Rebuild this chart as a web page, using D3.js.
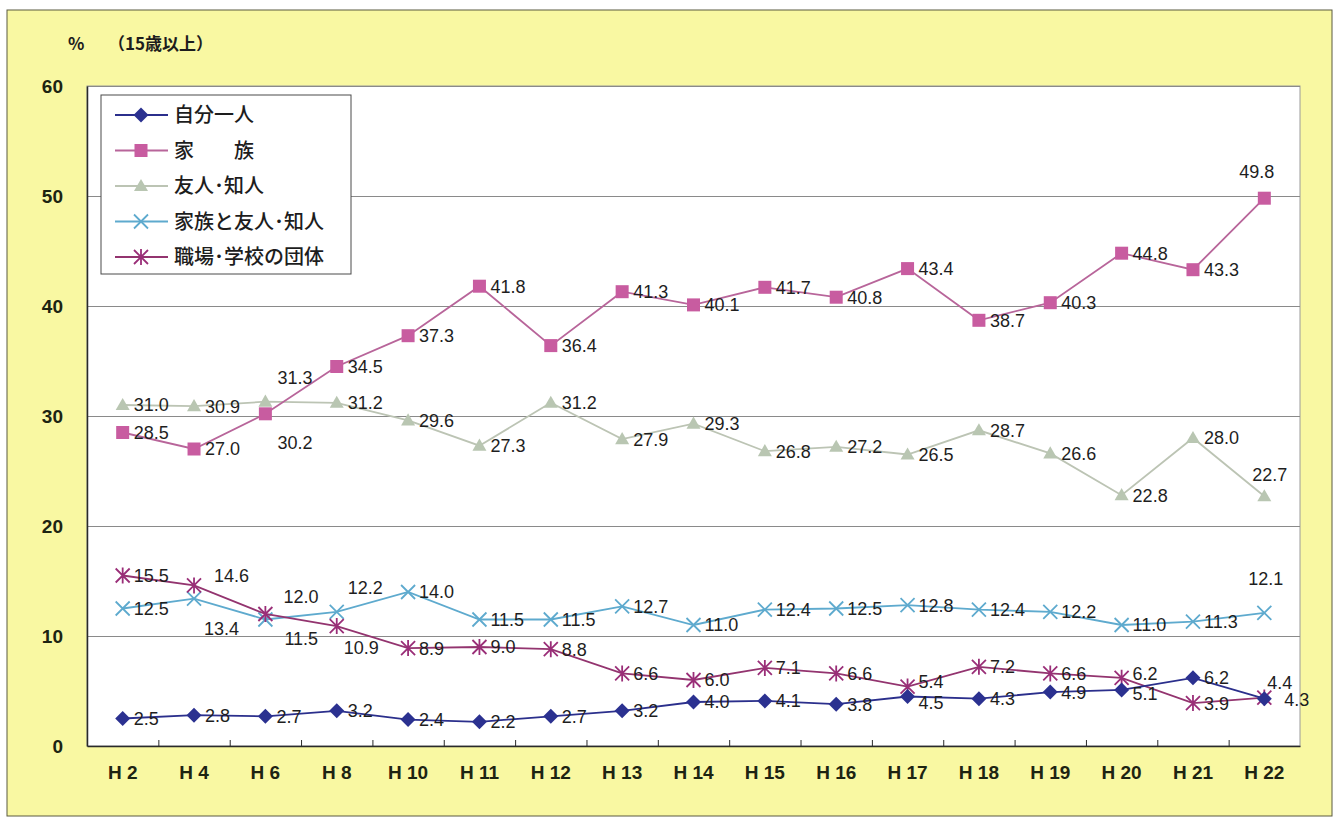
<!DOCTYPE html>
<html lang="ja">
<head>
<meta charset="utf-8">
<script src="https://cdn.jsdelivr.net/npm/d3@7/dist/d3.min.js"></script>
<style>
  html, body { margin: 0; padding: 0; background: #ffffff; }
  svg { display: block; }
  .lbl { font-family: "Liberation Sans", Arial, sans-serif; font-size: 18px; fill: #1e1e1e; }
  .axis text { font-family: "Liberation Sans", Arial, sans-serif; font-weight: bold; fill: #1d2412; }
  .jp { font-family: "Noto Sans CJK JP", "Noto Sans", sans-serif; fill: #1d1d1d; }
</style>
</head>
<body>
<svg id="chart" width="1340" height="820"></svg>
<script>
// Survey years (Heisei era)
const categories = ["H 2","H 4","H 6","H 8","H 10","H 11","H 12","H 13","H 14","H 15","H 16","H 17","H 18","H 19","H 20","H 21","H 22"];

// Percentages (aged 15 and over)
const alone          = [2.5, 2.8, 2.7, 3.2, 2.4, 2.2, 2.7, 3.2, 4.0, 4.1, 3.8, 4.5, 4.3, 4.9, 5.1, 6.2, 4.3];
const family         = [28.5, 27.0, 30.2, 34.5, 37.3, 41.8, 36.4, 41.3, 40.1, 41.7, 40.8, 43.4, 38.7, 40.3, 44.8, 43.3, 49.8];
const friends        = [31.0, 30.9, 31.3, 31.2, 29.6, 27.3, 31.2, 27.9, 29.3, 26.8, 27.2, 26.5, 28.7, 26.6, 22.8, 28.0, 22.7];
const familyFriends  = [12.5, 13.4, 11.5, 12.2, 14.0, 11.5, 11.5, 12.7, 11.0, 12.4, 12.5, 12.8, 12.4, 12.2, 11.0, 11.3, 12.1];
const workSchool     = [15.5, 14.6, 12.0, 10.9, 8.9, 9.0, 8.8, 6.6, 6.0, 7.1, 6.6, 5.4, 7.2, 6.6, 6.2, 3.9, 4.4];

const seriesNames = ["自分一人", "家　　族", "友人･知人", "家族と友人･知人", "職場･学校の団体"];
const yTicks = [0, 10, 20, 30, 40, 50, 60];

const series = [
  { name: seriesNames[0], values: alone,         line: "#2b2f8c", fill: "#2b3190", symbol: "diamond" },
  { name: seriesNames[1], values: family,        line: "#b8659a", fill: "#c85ca0", symbol: "square" },
  { name: seriesNames[2], values: friends,       line: "#bcc4b4", fill: "#b9c6b2", symbol: "triangle" },
  { name: seriesNames[3], values: familyFriends, line: "#5eaace", fill: "#5eaace", symbol: "x" },
  { name: seriesNames[4], values: workSchool,    line: "#93346f", fill: "#9a2e78", symbol: "asterisk" }
];

// Label nudges [dx, dy] relative to the marker, for labels not placed plainly to the right
const labelNudge = {
  "1-2": [12, 29], "1-16": [-25, -27],
  "2-2": [12, -24], "2-16": [-12, -22],
  "3-1": [10, 30], "3-2": [19, 19], "3-3": [11, -24], "3-16": [-16, -34],
  "4-1": [20, -10], "4-2": [18, -17], "4-3": [7, 21], "4-16": [3, -15],
  "4-11": [11, -5], "0-11": [11, 6], "4-14": [11, -4], "0-14": [11, 4],
  "0-16": [20, 1]
};

const svg = d3.select("#chart");
const W = 1340, H = 820;
const plot = { left: 87, right: 1300, top: 86, bottom: 746 };

// Page and panel background
svg.append("rect").attr("width", W).attr("height", H).attr("fill", "#ffffff");
svg.append("rect").attr("x", 7).attr("y", 10).attr("width", 1325).attr("height", 806)
  .attr("fill", "#f9f8a2").attr("stroke", "#5a5a40").attr("stroke-width", 1);

const x = d3.scaleBand().domain(categories).range([plot.left, plot.right]).padding(0);
const y = d3.scaleLinear().domain([0, 60]).range([plot.bottom, plot.top]);
const cx = c => x(c) + x.bandwidth() / 2;

// Plot area
svg.append("rect").attr("x", plot.left).attr("y", plot.top)
  .attr("width", plot.right - plot.left).attr("height", plot.bottom - plot.top)
  .attr("fill", "#ffffff").attr("stroke", "#9a9a9a").attr("stroke-width", 1);

// Horizontal gridlines
const grid = svg.append("g").attr("transform", `translate(${plot.left},0)`)
  .call(d3.axisLeft(y).tickValues(yTicks.filter(v => v > 0)).tickSize(-(plot.right - plot.left)).tickFormat(""));
grid.select(".domain").remove();
grid.selectAll("line").attr("stroke", "#8a8a8a").attr("stroke-width", 1);

// Y axis
const yAxis = svg.append("g").attr("class", "axis").attr("transform", `translate(${plot.left},0)`)
  .call(d3.axisLeft(y).tickValues(yTicks).tickSize(0).tickPadding(24).tickFormat(d3.format("d")));
yAxis.select(".domain").attr("stroke", "#2a2a2a").attr("stroke-width", 1.5);
yAxis.selectAll("text").attr("font-size", 19).attr("dy", "0.35em");

// X axis: category labels
const xAxis = svg.append("g").attr("class", "axis").attr("transform", `translate(0,${plot.bottom})`)
  .call(d3.axisBottom(x).tickSize(0).tickPadding(20));
xAxis.select(".domain").attr("stroke", "#2a2a2a").attr("stroke-width", 1.5);
xAxis.selectAll("text").attr("font-size", 19);

// X axis: tick marks between categories, pointing into the plot
const xb = d3.scaleLinear().domain([0, categories.length]).range([plot.left, plot.right]);
const xTicks = svg.append("g").attr("transform", `translate(0,${plot.bottom})`)
  .call(d3.axisBottom(xb).tickValues(d3.range(1, categories.length)).tickSize(-6).tickFormat(""));
xTicks.select(".domain").remove();
xTicks.selectAll("line").attr("stroke", "#2a2a2a");

// Axis caption
svg.append("text").attr("class", "jp").attr("x", 68).attr("y", 50)
  .attr("font-size", 17).attr("font-weight", "bold").text("%");
svg.append("text").attr("class", "jp").attr("x", 108).attr("y", 50)
  .attr("font-size", 17).attr("font-weight", "bold").text("（15歳以上）");

// Marker drawing
function drawMarker(g, s, px, py) {
  const sz = 7;
  if (s.symbol === "diamond") {
    g.append("path").attr("d", `M${px},${py - 7.5}L${px + 7.5},${py}L${px},${py + 7.5}L${px - 7.5},${py}Z`)
      .attr("fill", s.fill);
  } else if (s.symbol === "square") {
    g.append("rect").attr("x", px - 6.5).attr("y", py - 6.5).attr("width", 13).attr("height", 13)
      .attr("fill", s.fill);
  } else if (s.symbol === "triangle") {
    g.append("path").attr("transform", `translate(${px},${py + 1})`)
      .attr("d", d3.symbol(d3.symbolTriangle, 85)()).attr("fill", s.fill);
  } else if (s.symbol === "x") {
    g.append("path").attr("d", `M${px - sz},${py - sz}L${px + sz},${py + sz}M${px - sz},${py + sz}L${px + sz},${py - sz}`)
      .attr("stroke", s.fill).attr("stroke-width", 1.8).attr("fill", "none");
  } else if (s.symbol === "asterisk") {
    g.append("path").attr("d", `M${px - sz},${py - sz}L${px + sz},${py + sz}M${px - sz},${py + sz}L${px + sz},${py - sz}M${px},${py - sz - 1}L${px},${py + sz + 1}`)
      .attr("stroke", s.fill).attr("stroke-width", 1.8).attr("fill", "none");
  }
}

// Lines, markers and value labels (back to front)
const order = [2, 1, 3, 4, 0];
const line = d3.line().x((d, i) => cx(categories[i])).y(d => y(d));
order.forEach(si => {
  const s = series[si];
  const g = svg.append("g");
  g.append("path").datum(s.values).attr("d", line)
    .attr("fill", "none").attr("stroke", s.line).attr("stroke-width", 1.8);
  s.values.forEach((v, i) => drawMarker(g, s, cx(categories[i]), y(v)));
});
order.forEach(si => {
  const s = series[si];
  const g = svg.append("g");
  s.values.forEach((v, i) => {
    const n = labelNudge[`${si}-${i}`] || [11, 0];
    g.append("text").attr("class", "lbl")
      .attr("x", cx(categories[i]) + n[0]).attr("y", y(v) + n[1])
      .attr("dy", "0.36em").attr("text-anchor", "start")
      .text(d3.format(".1f")(v));
  });
});

// Legend
const lg = svg.append("g");
lg.append("rect").attr("x", 101).attr("y", 95).attr("width", 250).attr("height", 179)
  .attr("fill", "#ffffff").attr("stroke", "#4a4a4a").attr("stroke-width", 1);
series.forEach((s, i) => {
  const ly = 115 + i * 35.5;
  lg.append("line").attr("x1", 115).attr("x2", 168).attr("y1", ly).attr("y2", ly)
    .attr("stroke", s.line).attr("stroke-width", 1.8);
  drawMarker(lg, s, 141, ly);
  lg.append("text").attr("class", "jp").attr("x", 174).attr("y", ly).attr("dy", "0.36em")
    .attr("font-size", 20).attr("font-weight", 500).text(s.name);
});
</script>
</body>
</html>
